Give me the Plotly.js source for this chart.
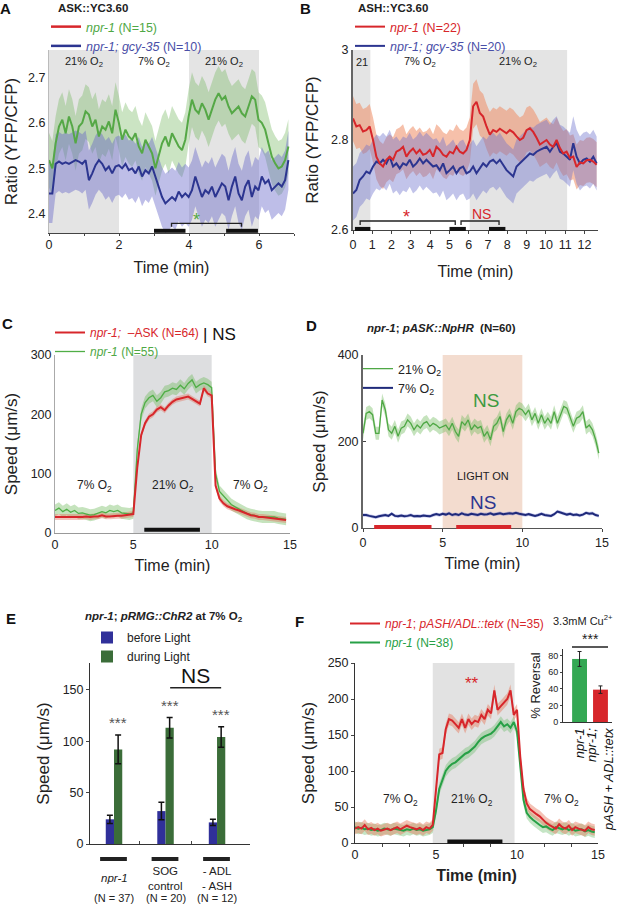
<!DOCTYPE html>
<html><head><meta charset="utf-8">
<script src="https://cdn.plot.ly/plotly-3.0.1.min.js"></script>
<style>html,body{margin:0;padding:0;background:#fff}#fig{width:617px;height:905px}</style>
</head><body><div id="fig"></div>
<script>
// ================= DATA =================
// A: ASK::YC3.60 ratio, one sample every 0.095 min
const A_dt = 0.095;
const A_npr1 = [2.518,2.50,2.555,2.592,2.607,2.577,2.614,2.592,2.555,2.592,2.600,2.625,2.618,2.592,2.607,2.57,2.592,2.585,2.603,2.577,2.629,2.600,2.563,2.585,2.57,2.563,2.577,2.548,2.533,2.563,2.548,2.533,2.50,2.526,2.555,2.57,2.548,2.577,2.563,2.548,2.54,2.563,2.614,2.651,2.629,2.621,2.643,2.629,2.607,2.629,2.651,2.665,2.651,2.658,2.636,2.621,2.629,2.636,2.621,2.614,2.636,2.658,2.651,2.607,2.600,2.585,2.555,2.526,2.511,2.50,2.504,2.518,2.548];
const A_gcy35 = [2.445,2.445,2.51,2.515,2.51,2.513,2.51,2.515,2.518,2.515,2.51,2.518,2.474,2.489,2.507,2.518,2.51,2.496,2.504,2.489,2.504,2.507,2.50,2.51,2.496,2.50,2.489,2.504,2.482,2.496,2.489,2.504,2.482,2.46,2.437,2.423,2.43,2.437,2.43,2.449,2.437,2.445,2.437,2.452,2.482,2.46,2.437,2.452,2.445,2.46,2.437,2.452,2.467,2.46,2.43,2.46,2.482,2.445,2.43,2.46,2.474,2.437,2.46,2.452,2.482,2.467,2.474,2.452,2.46,2.467,2.46,2.474,2.518];
const A_semNpr1 = 0.06, A_semGcy = 0.065;
const A_o2 = [[0, 2, '21% O<sub>2</sub>'], [2, 4, '7% O<sub>2</sub>'], [4, 6, '21% O<sub>2</sub>']];
const A_shaded = [[0, 2], [4, 6]];
const A_bars = [[3.0, 3.9], [5.06, 5.97]];
const A_bracket = [3.5, 5.5];

// B: ASH::YC3.60 ratio, one sample every 0.173 min
const B_dt = 0.173;
const B_npr1 = [2.848,2.83,2.833,2.819,2.822,2.83,2.80,2.763,2.748,2.741,2.756,2.763,2.756,2.774,2.778,2.785,2.763,2.774,2.781,2.77,2.778,2.767,2.77,2.778,2.763,2.785,2.778,2.767,2.763,2.774,2.77,2.785,2.774,2.77,2.778,2.80,2.875,2.885,2.86,2.852,2.83,2.812,2.822,2.818,2.825,2.82,2.815,2.822,2.817,2.808,2.80,2.805,2.822,2.826,2.818,2.805,2.79,2.795,2.8,2.79,2.785,2.8,2.782,2.77,2.774,2.76,2.763,2.74,2.75,2.748,2.755,2.756,2.752,2.745];
const B_gcy35 = [2.681,2.689,2.711,2.719,2.73,2.726,2.741,2.752,2.748,2.756,2.748,2.763,2.741,2.748,2.737,2.748,2.744,2.756,2.741,2.748,2.759,2.748,2.756,2.748,2.741,2.744,2.733,2.748,2.726,2.733,2.741,2.726,2.737,2.741,2.726,2.73,2.741,2.726,2.737,2.748,2.741,2.752,2.756,2.748,2.756,2.744,2.733,2.726,2.719,2.741,2.748,2.756,2.763,2.77,2.767,2.774,2.778,2.781,2.785,2.774,2.785,2.793,2.774,2.77,2.763,2.756,2.793,2.763,2.748,2.756,2.759,2.752,2.763,2.748];
const B_semNpr1 = 0.05, B_semGcy = 0.06;
const B_o2 = [[0, 0.9, '21'], [0.9, 6.05, '7% O<sub>2</sub>'], [6.05, 11.1, '21% O<sub>2</sub>']];
const B_shaded = [[0, 0.9], [6.05, 11.1]];
const B_bars = [[0.1, 0.9], [5.0, 5.85], [7.05, 7.9]];
const B_brackets = [[0.37, 5.3, '*'], [5.6, 7.57, 'NS']];

// C: speed, one sample every 0.25 min
const C_dt = 0.25;
const C_noASK = [27,27,26,27,27,26,27,27,28,27,28,28,30,28,28,29,29,29,30,30,32,110,165,185,196,200,208,212,207,215,221,225,227,229,230,226,222,218,244,235,232,80,58,50,45,42,40,38,35,33,30,29,27,27,26,26,25,24,23,22];
const C_npr1 = [38,42,36,40,35,38,33,34,32,30,31,33,36,34,38,36,38,34,33,32,34,140,200,220,228,232,222,228,238,240,244,242,249,243,252,258,245,250,253,250,245,100,70,62,55,48,44,40,36,33,31,29,28,27,27,26,27,25,24,23];
const C_semNoASK = 5, C_semNpr1 = 10;
const C_o2 = [[0, 5, '7% O<sub>2</sub>'], [5, 10, '21% O<sub>2</sub>'], [10, 15, '7% O<sub>2</sub>']];
const C_bar = [5.7, 9.25];

// D: speed with NpHR, one sample every 0.2 min
const D_dt = 0.2;
const D_21 = [219,265,269,262,219,219,296,273,227,219,235,212,231,235,250,242,227,238,231,242,246,235,242,238,231,235,238,227,242,223,212,246,238,250,227,238,231,235,212,223,204,235,242,258,223,250,262,242,269,277,273,262,273,250,265,242,262,242,254,242,269,242,262,281,277,254,235,254,258,269,231,238,227,204,173];
const D_7 = [30,30,28,27,25,27,29,30,28,33,28,27,29,27,28,30,27,28,27,29,28,27,30,32,30,33,31,34,30,32,30,34,31,30,33,31,30,33,31,32,34,31,33,34,32,33,34,33,35,33,31,30,32,30,28,30,33,30,29,28,32,38,36,34,31,33,30,31,29,31,35,33,34,30,28];
const D_sem21 = 15, D_sem7 = 4;
const D_light = [5, 10];
const D_bars = [[0.7, 4.3], [5.85, 9.3]];

// E: pRMG::ChR2 bars
const E_groups = ['<i>npr-1</i>', 'SOG<br>control', '- ADL<br>- ASH'];
const E_counts = ['(N = 37)', '(N = 20)', '(N = 12)'];
const E_before = [24, 32, 21];
const E_beforeErr = [4, 8.5, 3];
const E_during = [92, 113, 104];
const E_duringErr = [14, 10, 10];

// F: speed, one sample every 0.2 min
const F_dt = 0.2;
const F_tetx = [20,22,20,25,19,21,18,20,17,19,20,18,20,22,19,21,24,22,20,19,21,18,22,20,25,70,123,125,158,172,170,165,160,172,160,172,165,170,168,178,172,185,180,212,185,190,195,200,212,178,185,120,75,55,47,43,40,37,32,28,25,22,20,26,22,20,24,18,22,20,18,17,22,19,18];
const F_npr1 = [22,20,21,19,20,18,19,17,18,20,19,18,20,19,18,17,19,18,20,18,19,17,18,19,22,45,75,88,100,106,110,112,116,120,124,126,130,134,140,145,148,150,152,156,162,168,162,165,160,168,155,106,60,42,36,32,28,25,22,23,20,18,22,20,19,21,18,20,17,18,19,16,18,16,15];
const F_sem = 8;
const F_o2 = [[0, 4.8, '7% O<sub>2</sub>'], [4.8, 9.85, '21% O<sub>2</sub>'], [9.85, 15, '7% O<sub>2</sub>']];
const F_bar = [5.7, 9.1];

// F inset: % reversal to Cu2+
const F_insetLabels = ['<i>npr-1</i>', '<i>npr-1;<br>pASH + ADL::tetx</i>'];
const F_insetVals = [76, 39];
const F_insetErr = [9, 4.5];

// ================= HELPERS =================
const W = 617, H = 905;
const px = p => p / W;
const py = p => 1 - p / H;
const FONT = 'Arial, "Liberation Sans", sans-serif';
const RED = '#d7262b', GREEN = '#55a846', NAVY = '#2c3590', GRAY = '#e4e4e4';

function band(y, sem, dt, xa, ya, color) {
  return [
    {y: y.map(v => v - sem), x0: 0, dx: dt, xaxis: xa, yaxis: ya, mode: 'lines', line: {width: 0}, showlegend: false, hoverinfo: 'skip'},
    {y: y.map(v => v + sem), x0: 0, dx: dt, xaxis: xa, yaxis: ya, mode: 'lines', line: {width: 0}, fill: 'tonexty', fillcolor: color, showlegend: false, hoverinfo: 'skip'}
  ];
}
function trace(y, dt, xa, ya, color, width, extra) {
  return Object.assign({y: y, x0: 0, dx: dt, xaxis: xa, yaxis: ya, mode: 'lines', line: {color: color, width: width}, showlegend: false, hoverinfo: 'skip'}, extra || {});
}
function note(text, x, y, xref, yref, size, color, extra) {
  return Object.assign({text: text, x: x, y: y, xref: xref, yref: yref, xanchor: 'center', yanchor: 'middle', showarrow: false,
    font: {family: FONT, size: size, color: color || '#222'}}, extra || {});
}
function shade(xref, x0, x1, color) {
  return {type: 'rect', xref: xref, yref: xref.replace('x', 'y') + ' domain', x0: x0, x1: x1, y0: 0, y1: 1, fillcolor: color, line: {width: 0}, layer: 'below'};
}
function hbar(xref, x0, x1, yref, y, color, w) {
  return {type: 'line', xref: xref, yref: yref, x0: x0, x1: x1, y0: y, y1: y, line: {color: color, width: w}};
}
function bracket(xref, yref, x0, x1, y, drop) {
  return {type: 'path', xref: xref, yref: yref, path: `M ${x0},${y - drop} L ${x0},${y} L ${x1},${y} L ${x1},${y - drop}`, line: {color: '#222', width: 1.3}};
}
function legendAt(x, y, size) {
  return {x: px(x), y: py(y), xanchor: 'left', yanchor: 'top', bgcolor: 'rgba(0,0,0,0)', font: {family: FONT, size: size || 12.5, color: '#222'}, itemwidth: 30, tracegroupgap: 0, traceorder: 'normal'};
}
function axis(dom, extra) {
  return Object.assign({domain: dom, showgrid: false, zeroline: false, showline: true, linecolor: '#444', linewidth: 1,
    ticks: 'outside', ticklen: 3, tickcolor: '#444', tickfont: {family: FONT, size: 12.5, color: '#222'}, fixedrange: true}, extra);
}
const ytitle = (t, s) => ({text: t, font: {family: FONT, size: 17, color: '#222'}, standoff: s});
const xtitle = (t, s) => ({text: t, font: {family: FONT, size: 16, color: '#222'}, standoff: s});

let data = [];
let shapes = [];
let ann = [];

// ================= A =================
data.push(...band(A_npr1, A_semNpr1, A_dt, 'x', 'y', 'rgba(110,180,90,0.36)'));
data.push(...band(A_gcy35, A_semGcy, A_dt, 'x', 'y', 'rgba(100,100,200,0.42)'));
data.push(trace(A_npr1, A_dt, 'x', 'y', GREEN, 2));
data.push(trace(A_gcy35, A_dt, 'x', 'y', NAVY, 2));
data.push({x: [null], y: [null], xaxis: 'x', yaxis: 'y', mode: 'lines', line: {color: RED, width: 2.5}, legend: 'legend',
  name: '<span style="color:#4fa845"><i>npr-1</i> (N=15)</span>'});
data.push({x: [null], y: [null], xaxis: 'x', yaxis: 'y', mode: 'lines', line: {color: NAVY, width: 2.5}, legend: 'legend',
  name: '<span style="color:#4a4fa8"><i>npr-1; gcy-35</i> (N=10)</span>'});
A_shaded.forEach(s => shapes.push(shade('x', s[0], s[1], GRAY)));
A_o2.forEach(o => ann.push(note(o[2], (o[0] + o[1]) / 2, py(62), 'x', 'paper', 11)));
A_bars.forEach(b => shapes.push(hbar('x', b[0], b[1], 'y domain', 0.012, '#111', 4)));
shapes.push(bracket('x', 'y', A_bracket[0], A_bracket[1], 2.379, 0.007));
ann.push(note('*', (A_bracket[0] + A_bracket[1]) / 2 - 0.3, 2.386, 'x', 'y', 18, GREEN));

// ================= B =================
data.push(...band(B_npr1, B_semNpr1, B_dt, 'x2', 'y2', 'rgba(238,140,100,0.55)'));
data.push(...band(B_gcy35, B_semGcy, B_dt, 'x2', 'y2', 'rgba(110,115,205,0.42)'));
data.push(trace(B_gcy35, B_dt, 'x2', 'y2', NAVY, 2, {showlegend: true, legend: 'legend2', legendrank: 2,
  name: '<span style="color:#4a4fa8"><i>npr-1; gcy-35</i> (N=20)</span>'}));
data.push(trace(B_npr1, B_dt, 'x2', 'y2', RED, 2, {showlegend: true, legend: 'legend2', legendrank: 1,
  name: '<span style="color:#d7262b"><i>npr-1</i> (N=22)</span>'}));
B_shaded.forEach(s => shapes.push(shade('x2', s[0], s[1], GRAY)));
B_o2.forEach(o => ann.push(note(o[2], (o[0] + o[1]) / 2, py(62), 'x2', 'paper', 11)));
B_bars.forEach(b => shapes.push(hbar('x2', b[0], b[1], 'y2 domain', 0.006, '#111', 4)));
B_brackets.forEach((b, i) => {
  shapes.push(bracket('x2', 'y2', b[0], b[1], 2.62, 0.009));
  ann.push(note(b[2], i === 0 ? 2.75 : 6.65, i === 0 ? 2.629 : 2.635, 'x2', 'y2', i === 0 ? 18 : 14, RED));
});

// ================= C =================
data.push(...band(C_npr1, C_semNpr1, C_dt, 'x3', 'y3', 'rgba(110,185,90,0.4)'));
data.push(...band(C_noASK, C_semNoASK, C_dt, 'x3', 'y3', 'rgba(225,110,90,0.4)'));
data.push(trace(C_npr1, C_dt, 'x3', 'y3', '#4fae46', 1.3, {showlegend: true, legend: 'legend3', legendrank: 2,
  name: '<span style="color:#4fa845"><i>npr-1</i> (N=55)</span>'}));
data.push(trace(C_noASK, C_dt, 'x3', 'y3', RED, 2, {showlegend: true, legend: 'legend3', legendrank: 1,
  name: '<span style="color:#d7262b"><i>npr-1;</i>  \u2013ASK (N=64)</span>'}));
shapes.push(shade('x3', C_o2[1][0], C_o2[1][1], '#dddee0'));
C_o2.forEach(o => ann.push(note(o[2], (o[0] + o[1]) / 2, 80, 'x3', 'y3', 12)));
shapes.push(hbar('x3', C_bar[0], C_bar[1], 'y3 domain', 0.018, '#111', 4));
ann.push(note('| NS', px(219), py(334), 'paper', 'paper', 17, '#111'));

// ================= D =================
shapes.push(shade('x4', D_light[0], D_light[1], '#f3dccf'));
data.push(...band(D_21, D_sem21, D_dt, 'x4', 'y4', 'rgba(110,185,90,0.4)'));
data.push(...band(D_7, D_sem7, D_dt, 'x4', 'y4', 'rgba(110,115,205,0.4)'));
data.push(trace(D_21, D_dt, 'x4', 'y4', '#4fa845', 1.3, {showlegend: true, legend: 'legend4', name: '21% O<sub>2</sub>'}));
data.push(trace(D_7, D_dt, 'x4', 'y4', '#1f2a7a', 2, {showlegend: true, legend: 'legend4', name: '7% O<sub>2</sub>'}));
D_bars.forEach(b => shapes.push(hbar('x4', b[0], b[1], 'y4 domain', 0.006, RED, 4)));
ann.push(note('NS', 7.7, 295, 'x4', 'y4', 19, '#3d9a3f'));
ann.push(note('LIGHT ON', 7.55, 120, 'x4', 'y4', 11, '#222'));
ann.push(note('NS', 7.55, 58, 'x4', 'y4', 19, '#2c3590'));
ann.push(note('<b><i>npr-1</i>; <i>pASK::NpHR</i>  (N=60)</b>', px(441), py(328), 'paper', 'paper', 11.5));

// ================= E =================
const E_x = E_groups.map((g, i) => i);
data.push({type: 'bar', x: E_x, y: E_before, xaxis: 'x5', yaxis: 'y5', width: 0.16, offset: -0.16, marker: {color: '#30309a'},
  error_y: {type: 'data', array: E_beforeErr, color: '#111', thickness: 1.5, width: 3}, name: 'before Light', legend: 'legend5', hoverinfo: 'skip'});
data.push({type: 'bar', x: E_x, y: E_during, xaxis: 'x5', yaxis: 'y5', width: 0.16, offset: 0, marker: {color: '#3b6d39'},
  error_y: {type: 'data', array: E_duringErr, color: '#111', thickness: 1.5, width: 3}, name: 'during Light', legend: 'legend5', hoverinfo: 'skip'});
E_x.forEach(i => {
  ann.push(note('***', i + 0.08, E_during[i] + E_duringErr[i] + 12, 'x5', 'y5', 15, '#555'));
  shapes.push(hbar('x5', i - 0.27, i + 0.25, 'paper', py(859), '#222', 4));
  ann.push(note(E_groups[i], i, py(878), 'x5', 'paper', 11.5));
  ann.push(note(E_counts[i], i, py(898), 'x5', 'paper', 11));
});
shapes.push(hbar('x5', 1.09, 2.08, 'y5', 152, '#222', 1.5));
ann.push(note('NS', 1.58, 164, 'x5', 'y5', 21, '#111'));
ann.push(note('<b><i>npr-1</i>; <i>pRMG::ChR2</i> at 7% O<sub>2</sub></b>', px(164), py(617), 'paper', 'paper', 11.5));

// ================= F =================
F_o2.slice(1, 2).forEach(o => shapes.push(shade('x6', o[0], o[1], '#e2e2e2')));
data.push(...band(F_npr1, F_sem, F_dt, 'x6', 'y6', 'rgba(110,190,110,0.4)'));
data.push(...band(F_tetx, F_sem, F_dt, 'x6', 'y6', 'rgba(230,120,90,0.45)'));
data.push(trace(F_npr1, F_dt, 'x6', 'y6', '#27a046', 2, {showlegend: true, legend: 'legend6', legendrank: 2,
  name: '<span style="color:#27a046"><i>npr-1</i> (N=38)</span>'}));
data.push(trace(F_tetx, F_dt, 'x6', 'y6', RED, 2, {showlegend: true, legend: 'legend6', legendrank: 1,
  name: '<span style="color:#d7262b"><i>npr-1</i>; <i>pASH/ADL::tetx</i> (N=35)</span>'}));
F_o2.forEach((o, i) => ann.push(note(o[2], [2.8, 7.2, 12.75][i], 60, 'x6', 'y6', 12)));
shapes.push(hbar('x6', F_bar[0], F_bar[1], 'y6 domain', 0.008, '#111', 4));
ann.push(note('**', 7.2, 222, 'x6', 'y6', 17, RED));

// inset
data.push({type: 'bar', x: [0, 1], y: F_insetVals, xaxis: 'x7', yaxis: 'y7', width: 0.71, marker: {color: ['#34a853', RED]},
  error_y: {type: 'data', array: F_insetErr, color: '#222', thickness: 1, width: 2}, showlegend: false, hoverinfo: 'skip'});
ann.push(note('3.3mM Cu<sup>2+</sup>', px(583), py(620), 'paper', 'paper', 11));
shapes.push(hbar('x7', -0.36, 1.36, 'paper', py(647), '#222', 1.5));
ann.push(note('***', px(590), py(639), 'paper', 'paper', 14, '#222'));

// panel letters and subtitles
[['A', 5, 8], ['B', 305, 8], ['C', 7, 323], ['D', 311, 325], ['E', 11, 618], ['F', 299, 621]].forEach(l =>
  ann.push(note('<b>' + l[0] + '</b>', px(l[1]), py(l[2]), 'paper', 'paper', 15, '#111')));
ann.push(note('<b>ASK::YC3.60</b>', px(93), py(8), 'paper', 'paper', 11.5));
ann.push(note('<b>ASH::YC3.60</b>', px(393), py(8), 'paper', 'paper', 11.5));

// ================= LAYOUT =================
const layout = {
  width: W, height: H, margin: {l: 0, r: 0, t: 0, b: 0}, paper_bgcolor: '#fff', plot_bgcolor: 'rgba(0,0,0,0)',
  font: {family: FONT}, showlegend: true, barmode: 'group',
  xaxis: axis([px(49), px(294)], {range: [0, 7], tickvals: [0, 2, 4, 6], ticks: '', minor: {dtick: 1, ticks: 'outside', ticklen: 2, tickcolor: '#444'},
    title: xtitle('Time (min)', 10)}),
  yaxis: axis([py(233), py(50)], {range: [2.358, 2.76], tickvals: [2.4, 2.5, 2.6, 2.7], ticks: '', linecolor: '#bbb', title: ytitle('Ratio (YFP/CFP)', 6)}),
  xaxis2: axis([px(353), px(598)], {anchor: 'y2', range: [0, 12.7], dtick: 1, title: xtitle('Time (min)', 14)}),
  yaxis2: axis([py(230), py(50)], {anchor: 'x2', range: [2.6, 3.0], tickvals: [2.6, 2.8, 3], ticks: '', linecolor: '#666', linewidth: 2, title: ytitle('Ratio (YFP/CFP)', 8)}),
  xaxis3: axis([px(55), px(290)], {anchor: 'y3', range: [0, 15], dtick: 5, ticks: '', linecolor: '#999', title: xtitle('Time (min)', 8)}),
  yaxis3: axis([py(533), py(355)], {anchor: 'x3', range: [0, 300], dtick: 100, ticks: '', linecolor: '#aaa', title: ytitle('Speed (\u03bcm/s)', 8)}),
  xaxis4: axis([px(363), px(602)], {anchor: 'y4', range: [0, 15], dtick: 5, linecolor: '#555', title: xtitle('Time (min)', 8)}),
  yaxis4: axis([py(528), py(355)], {anchor: 'x4', range: [0, 400], tickvals: [0, 200, 400], ticks: 'inside', linecolor: '#666', linewidth: 2, title: ytitle('Speed (\u03bcm/s)', 8)}),
  xaxis5: axis([px(90), px(250)], {anchor: 'y5', range: [-0.466, 2.64], tickvals: [0.5, 1.5], ticks: 'inside', showticklabels: false, linecolor: '#333'}),
  yaxis5: axis([py(844), py(663)], {anchor: 'x5', range: [0, 176], dtick: 50, linecolor: '#333', title: ytitle('Speed (\u03bcm/s)', 8)}),
  xaxis6: axis([px(355), px(598)], {anchor: 'y6', range: [0, 15], dtick: 5, ticks: '', minor: {dtick: 5 / 3, ticks: 'outside', ticklen: 3, tickcolor: '#444'},
    linecolor: '#333', title: xtitle('<b>Time (min)</b>', 8)}),
  yaxis6: axis([py(843), py(663)], {anchor: 'x6', range: [0, 250], dtick: 50, linecolor: '#333', title: ytitle('Speed (\u03bcm/s)', 8)}),
  xaxis7: axis([px(563), px(612)], {anchor: 'y7', range: [-0.79, 1.55], tickvals: [0, 1], ticktext: F_insetLabels, tickangle: -90, ticks: '',
    tickfont: {family: FONT, size: 13, color: '#111'}, linecolor: '#333'}),
  yaxis7: axis([py(722), py(649)], {anchor: 'x7', range: [0, 88], dtick: 20, ticklen: 2, tickfont: {family: FONT, size: 9, color: '#222'}, linecolor: '#333',
    title: {text: '% Reversal', font: {family: FONT, size: 13, color: '#222'}, standoff: 4}}),
  legend: legendAt(46, 12),
  legend2: legendAt(350, 12),
  legend3: legendAt(50, 318, 12),
  legend4: legendAt(358, 354),
  legend5: legendAt(87, 623, 12),
  legend6: legendAt(345, 609, 12),
  shapes: shapes,
  annotations: ann
};

Plotly.newPlot('fig', data, layout, {staticPlot: true});
</script>
</body></html>
